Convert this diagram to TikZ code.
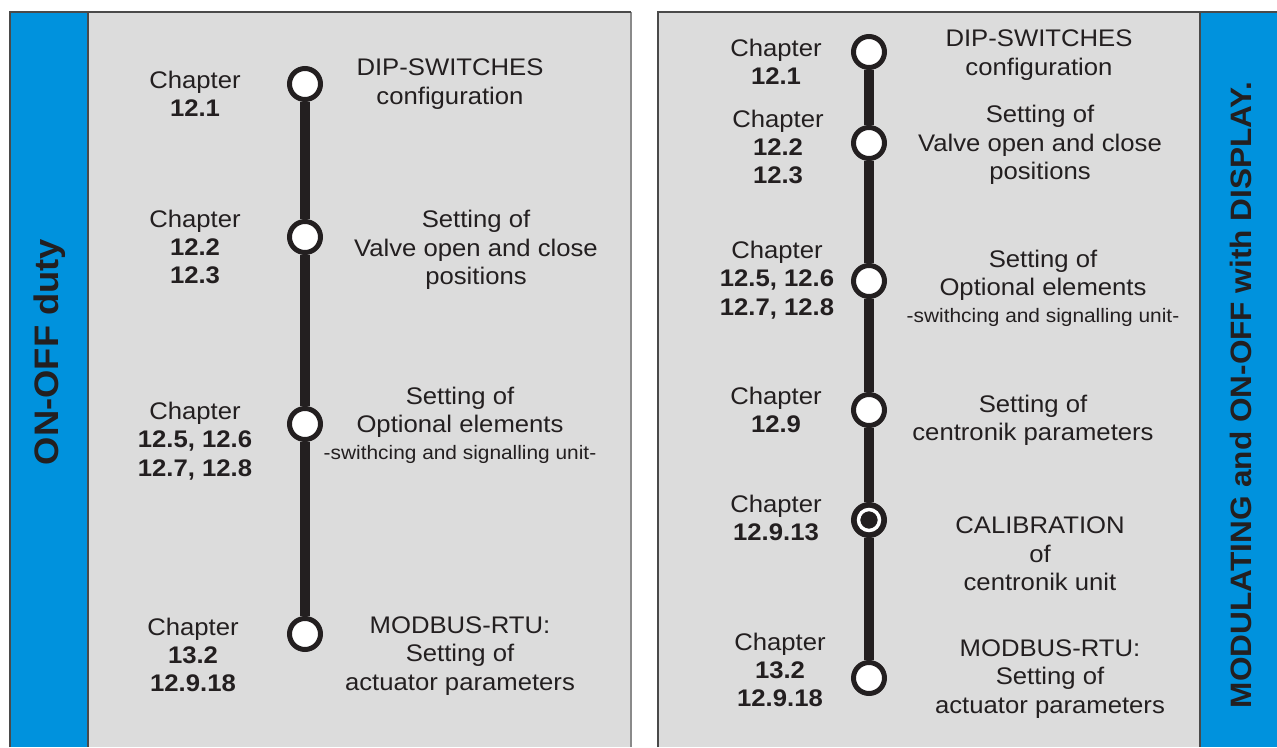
\documentclass[tikz,border=0pt]{standalone}
\usepackage{fontspec}
\setmainfont[FakeStretch=1.07]{Liberation Sans}
\definecolor{txt}{HTML}{231F20}
\definecolor{panelgray}{HTML}{DCDCDC}
\definecolor{stripblue}{HTML}{0092DD}
\definecolor{edgedark}{HTML}{4A4A4A}
\definecolor{edgeshadow}{HTML}{8A8A8A}
\tikzset{
  lbl/.style={font=\fontsize{24}{28.3}\selectfont, align=center, text=txt, inner sep=0pt},
  vtitle/.style={rotate=90, text=txt, inner sep=0pt},
  stepdot/.style={circle, draw=txt, line width=5pt, fill=white, minimum size=31pt, inner sep=0pt},
  calibdot/.style={circle, draw=txt, line width=5pt, fill=txt, minimum size=31pt, inner sep=0pt,
    path picture={\draw[white, line width=3.5pt] (path picture bounding box.center) circle (10.5pt);}},
  spine/.style={draw=txt, line width=10pt}
}
\begin{document}
\begin{tikzpicture}[x=1pt, y=-1pt]
\useasboundingbox (0,0) rectangle (1277,747);
\fill[white] (0,0) rectangle (1277,747);
% left panel
\fill[panelgray] (10,12) rectangle (631,747);
\fill[stripblue] (10,12) rectangle (88,747);
\draw[edgeshadow, line width=2pt] (631,12) -- (631,747);
\draw[edgedark, line width=1.2pt] (10,747) -- (10,12) -- (631,12);
\draw[edgedark, line width=1.2pt] (88,12) -- (88,747);
% right panel
\fill[panelgray] (658,12) rectangle (1277,747);
\fill[stripblue] (1200,12) rectangle (1277,747);
\draw[edgedark, line width=1.2pt] (658,747) -- (658,12) -- (1277,12);
\draw[edgedark, line width=1.2pt] (1200,12) -- (1200,747);

% vertical titles
\node[vtitle, font=\bfseries\fontsize{34}{40}\selectfont] (tl) at (50,352) {ON-OFF duty};
\node[vtitle, font=\bfseries\fontsize{29.5}{36}\selectfont] (tr) at (1241,395) {MODULATING and ON-OFF with DISPLAY.};

% left spine
\node[stepdot] (L1) at (305,84) {};
\node[stepdot] (L2) at (305,237) {};
\node[stepdot] (L3) at (305,424) {};
\node[stepdot] (L4) at (305,634) {};
\draw[spine] (L1) -- (L2);
\draw[spine] (L2) -- (L3);
\draw[spine] (L3) -- (L4);

% left chapter labels
\node[lbl] (lc1) at (195,94) {Chapter\\\textbf{12.1}};
\node[lbl] (lc2) at (195,247) {Chapter\\\textbf{12.2}\\\textbf{12.3}};
\node[lbl] (lc3) at (195,441) {Chapter\\\textbf{12.5, 12.6}\\\textbf{12.7, 12.8}};
\node[lbl] (lc4) at (193,655) {Chapter\\\textbf{13.2}\\\textbf{12.9.18}};

% left descriptions
\node[lbl] (ld1) at (450,84) {DIP-SWITCHES\\configuration};
\node[lbl] (ld2) at (476,250) {Setting of\\Valve open and close\\positions};
\node[lbl, anchor=north] (ld3) at (460,387) {Setting of\\Optional elements\\[-2pt]{\fontsize{19.5}{24}\selectfont -swithcing and signalling unit-}};
\node[lbl] (ld4) at (460,656) {MODBUS-RTU:\\Setting of\\actuator parameters};

% right spine
\node[stepdot] (R1) at (869,52) {};
\node[stepdot] (R2) at (869,143) {};
\node[stepdot] (R3) at (869,281) {};
\node[stepdot] (R4) at (869,410) {};
\node[calibdot] (R5) at (869,520) {};
\node[stepdot] (R6) at (869,678) {};
\draw[spine] (R1) -- (R2);
\draw[spine] (R2) -- (R3);
\draw[spine] (R3) -- (R4);
\draw[spine] (R4) -- (R5);
\draw[spine] (R5) -- (R6);

% right chapter labels
\node[lbl] (rc1) at (776,62) {Chapter\\\textbf{12.1}};
\node[lbl] (rc2) at (778,147) {Chapter\\\textbf{12.2}\\\textbf{12.3}};
\node[lbl] (rc3) at (777,280) {Chapter\\\textbf{12.5, 12.6}\\\textbf{12.7, 12.8}};
\node[lbl] (rc4) at (776,410) {Chapter\\\textbf{12.9}};
\node[lbl] (rc5) at (776,518) {Chapter\\\textbf{12.9.13}};
\node[lbl] (rc6) at (780,670) {Chapter\\\textbf{13.2}\\\textbf{12.9.18}};

% right descriptions
\node[lbl] (rd1) at (1039,55) {DIP-SWITCHES\\configuration};
\node[lbl] (rd2) at (1040,145) {Setting of\\Valve open and close\\positions};
\node[lbl, anchor=north] (rd3) at (1043,250) {Setting of\\Optional elements\\[-2pt]{\fontsize{19.5}{24}\selectfont -swithcing and signalling unit-}};
\node[lbl] (rd4) at (1033,420) {Setting of\\centronik parameters};
\node[lbl] (rd5) at (1040,554) {CALIBRATION\\of\\centronik unit};
\node[lbl] (rd6) at (1050,679) {MODBUS-RTU:\\Setting of\\actuator parameters};
\end{tikzpicture}
\end{document}
